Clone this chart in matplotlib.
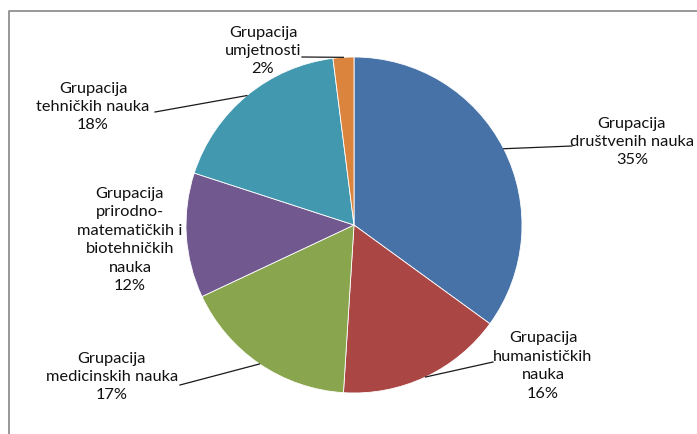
import matplotlib
matplotlib.use('Agg')
import matplotlib.pyplot as plt
import numpy as np
from matplotlib.lines import Line2D

# data
labels = ['Grupacija\ndruštvenih nauka', 'Grupacija\nhumanističkih\nnauka',
          'Grupacija\nmedicinskih nauka',
          'Grupacija\nprirodno-\nmatematičkih i\nbiotehničkih\nnauka',
          'Grupacija\ntehničkih nauka', 'Grupacija\numjetnosti']
shares = [35, 16, 17, 12, 18, 2]
colors = ['#4672A8', '#AA4644', '#89A54E', '#71588F', '#4298AF', '#DB843D']

# layout (pixel coords, y from top): label block centre and leader start
W, H = 697, 434
label_pos = [(632, 142), (543, 366), (112, 377), (130, 240), (93, 107), (263, 51)]
leader_from = [(572, 146), (493, 362), (180, 385), None, (155, 112), (302, 57)]
cx, cy, r = 354, 225, 168

plt.rcParams['font.family'] = ['Lato', 'DejaVu Sans']
fig = plt.figure(figsize=(W / 100, H / 100), dpi=100)
ax = fig.add_axes([0, 0, 1, 1])
ax.set_xlim(0, W)
ax.set_ylim(0, H)
ax.set_aspect('equal')
ax.axis('off')

wedges, _ = ax.pie(shares, colors=colors, startangle=90, counterclock=False,
                   center=(cx, H - cy), radius=r,
                   wedgeprops=dict(edgecolor='white', linewidth=0.6))
ax.set_xlim(0, W)
ax.set_ylim(0, H)

total = sum(shares)
for w, lab, v, (lx, ly), lf in zip(wedges, labels, shares, label_pos, leader_from):
    ax.text(lx, H - ly, f'{lab}\n{v / total:.0%}', ha='center', va='center',
            fontsize=11.8, linespacing=1.4, color='#111111')
    if lf is not None:
        mid = np.deg2rad((w.theta1 + w.theta2) / 2)
        ex = cx + r * np.cos(mid)
        ey = (H - cy) + r * np.sin(mid)
        ax.plot([lf[0], ex], [H - lf[1], ey], color='#1a1a1a', lw=0.9)

# chart frame (only top and left edges visible)
fig.add_artist(Line2D([9 / W, 9 / W, 1], [0, 1 - 11 / H, 1 - 11 / H],
                      transform=fig.transFigure, color='#868686', lw=1.2))

fig.savefig('out.png', dpi=100)
